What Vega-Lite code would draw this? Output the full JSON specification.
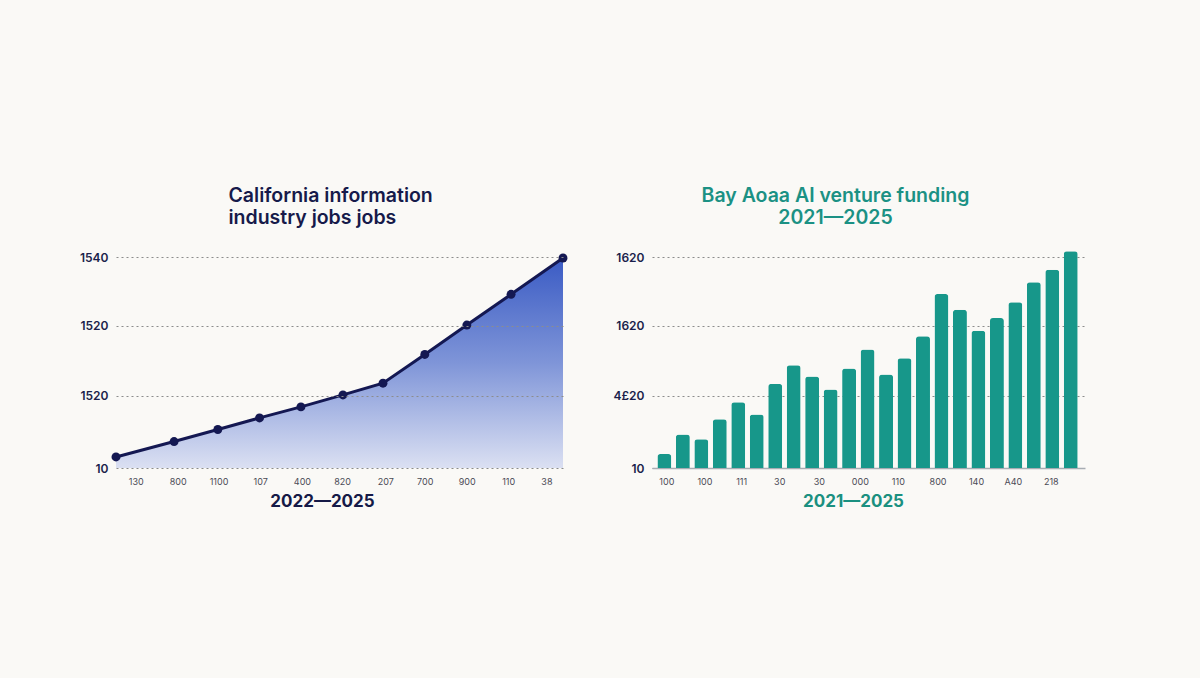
{
  "$schema": "https://vega.github.io/schema/vega-lite/v6.json",
  "background": "#faf9f6",
  "padding": {"left": 79, "top": 185, "right": 116, "bottom": 170},
  "spacing": 44,
  "config": {
    "view": {"stroke": null},
    "font": "Inter",
    "axis": {"labelFont": "Inter", "titleFont": "Inter"}
  },
  "hconcat": [
    {
      "width": 447,
      "height": 211,
      "title": {
        "text": ["California information", "industry jobs jobs"],
        "anchor": "start",
        "dx": 149,
        "offset": 23,
        "fontSize": 19.5,
        "fontWeight": 600,
        "lineHeight": 22,
        "color": "#161a4a"
      },
      "data": {
        "values": [
          {"t": 0, "jobs": 0.157},
          {"t": 1.398, "jobs": 0.376},
          {"t": 2.451, "jobs": 0.547},
          {"t": 3.455, "jobs": 0.712},
          {"t": 4.451, "jobs": 0.869},
          {"t": 5.463, "jobs": 1.039},
          {"t": 6.427, "jobs": 1.206},
          {"t": 7.433, "jobs": 1.615},
          {"t": 8.445, "jobs": 2.032},
          {"t": 9.51, "jobs": 2.469},
          {"t": 10.76, "jobs": 2.986}
        ]
      },
      "encoding": {
        "x": {
          "field": "t",
          "type": "quantitative",
          "scale": {"domain": [0, 10.76], "nice": false, "zero": false},
          "axis": {
            "values": [0.475, 1.487, 2.467, 3.47, 4.475, 5.44, 6.48, 7.43, 8.44, 9.44, 10.36],
            "labelExpr": "['130','800','1100','107','400','820','207','700','900','110','38'][indexof([0.475, 1.487, 2.467, 3.47, 4.475, 5.44, 6.48, 7.43, 8.44, 9.44, 10.36], datum.value)]",
            "grid": false,
            "domain": false,
            "ticks": false,
            "labelPadding": 9,
            "labelFontSize": 9,
            "labelColor": "#4a4a55",
            "title": "2022—2025",
            "titleFontSize": 17,
            "titleFontWeight": 700,
            "titleColor": "#151a47",
            "titleX": 206,
            "titleY": 38,
            "titleBaseline": "alphabetic"
          }
        },
        "y": {
          "field": "jobs",
          "type": "quantitative",
          "scale": {"domain": [0, 3], "nice": false},
          "axis": {
            "values": [0, 1.03, 2.02, 3],
            "labelExpr": "['10','1520','1520','1540'][indexof([0, 1.03, 2.02, 3], datum.value)]",
            "title": null,
            "domain": false,
            "ticks": false,
            "labelPadding": 8,
            "labelFontSize": 12,
            "labelFontWeight": 600,
            "labelColor": "#1b1f4b",
            "gridDash": [2, 3],
            "gridColor": "#8c8c8c",
            "gridWidth": 1,
            "zindex": 1
          }
        }
      },
      "layer": [
        {
          "mark": {
            "type": "area",
            "color": {
              "gradient": "linear",
              "x1": 1, "y1": 0, "x2": 1, "y2": 1,
              "stops": [
                {"offset": 0, "color": "#3a5bc4"},
                {"offset": 0.5, "color": "#7f95d8"},
                {"offset": 1, "color": "#dbe0f2"}
              ]
            }
          }
        },
        {
          "mark": {
            "type": "line",
            "color": "#141852",
            "strokeWidth": 3,
            "point": {"filled": true, "size": 80, "color": "#141852"}
          }
        }
      ]
    },
    {
      "width": 433,
      "height": 211,
      "title": {
        "text": ["Bay Aoaa AI venture funding", "2021—2025"],
        "anchor": "middle",
        "dx": -33,
        "offset": 23,
        "fontSize": 19.5,
        "fontWeight": 600,
        "lineHeight": 22,
        "color": "#1b9184"
      },
      "data": {
        "values": [
          {"i": 1, "funding": 0.199},
          {"i": 2, "funding": 0.476},
          {"i": 3, "funding": 0.409},
          {"i": 4, "funding": 0.693},
          {"i": 5, "funding": 0.935},
          {"i": 6, "funding": 0.76},
          {"i": 7, "funding": 1.196},
          {"i": 8, "funding": 1.462},
          {"i": 9, "funding": 1.301},
          {"i": 10, "funding": 1.116},
          {"i": 11, "funding": 1.415},
          {"i": 12, "funding": 1.686},
          {"i": 13, "funding": 1.33},
          {"i": 14, "funding": 1.562},
          {"i": 15, "funding": 1.875},
          {"i": 16, "funding": 2.473},
          {"i": 17, "funding": 2.25},
          {"i": 18, "funding": 1.951},
          {"i": 19, "funding": 2.132},
          {"i": 20, "funding": 2.355},
          {"i": 21, "funding": 2.64},
          {"i": 22, "funding": 2.819},
          {"i": 23, "funding": 3.081}
        ]
      },
      "mark": {
        "type": "bar",
        "width": 14,
        "color": "#17978a",
        "cornerRadiusTopLeft": 3,
        "cornerRadiusTopRight": 3
      },
      "encoding": {
        "x": {
          "field": "i",
          "type": "quantitative",
          "scale": {"domain": [0.6, 23.5], "nice": false, "zero": false},
          "axis": {
            "values": [1.106, 3.166, 5.157, 7.218, 9.36, 11.58, 13.64, 15.79, 17.87, 19.86, 21.92],
            "labelExpr": "['100','100','111','30','30','000','110','800','140','A40','218'][indexof([1.106, 3.166, 5.157, 7.218, 9.36, 11.58, 13.64, 15.79, 17.87, 19.86, 21.92], datum.value)]",
            "grid": false,
            "domain": true,
            "domainColor": "#a7adb3",
            "domainWidth": 1.5,
            "ticks": false,
            "labelPadding": 9,
            "labelFontSize": 9,
            "labelColor": "#4a4a55",
            "title": "2021—2025",
            "titleFontSize": 17,
            "titleFontWeight": 700,
            "titleColor": "#1a9080",
            "titleX": 201,
            "titleY": 38,
            "titleBaseline": "alphabetic"
          }
        },
        "y": {
          "field": "funding",
          "type": "quantitative",
          "scale": {"domain": [0, 3], "nice": false},
          "axis": {
            "values": [0, 1.03, 2.02, 3],
            "labelExpr": "['10','4£20','1620','1620'][indexof([0, 1.03, 2.02, 3], datum.value)]",
            "title": null,
            "domain": false,
            "ticks": false,
            "labelPadding": 8,
            "labelFontSize": 12,
            "labelFontWeight": 600,
            "labelColor": "#1b1f4b",
            "gridDash": [2, 3],
            "gridColor": "#8c8c8c",
            "gridWidth": 1
          }
        }
      }
    }
  ]
}
